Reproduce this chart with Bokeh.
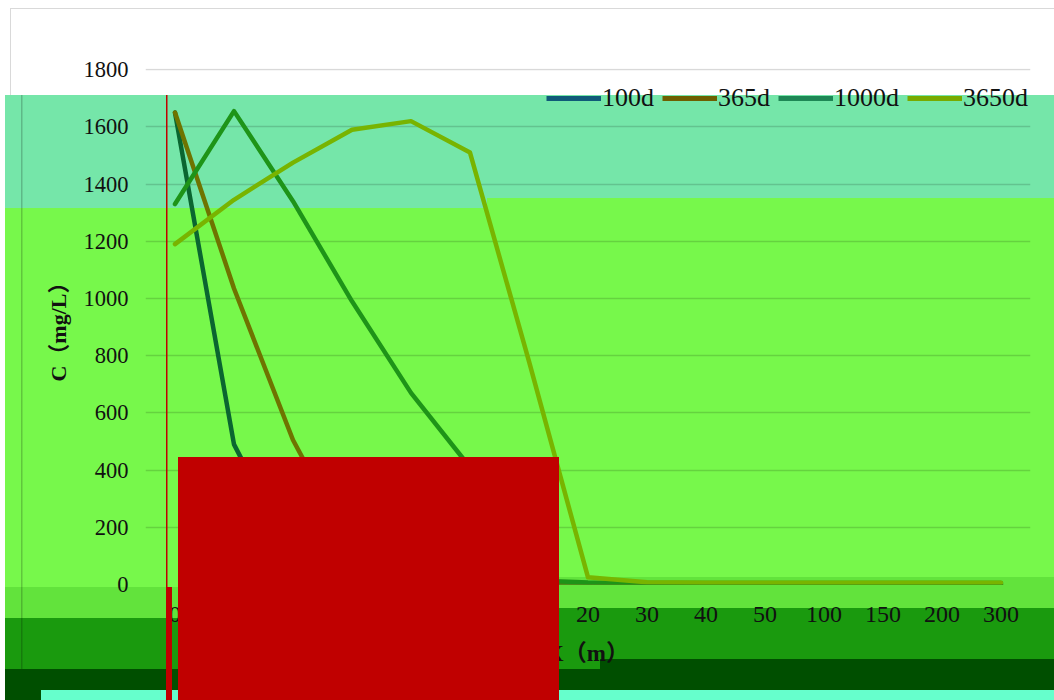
from bokeh.plotting import figure
from bokeh.models import Legend, LegendItem, FactorRange, Range1d, FixedTicker, InlineStyleSheet
from bokeh.embed import file_html
from bokeh.resources import INLINE

# ---------------- data ----------------
distance = ["0", "2", "4", "6", "8", "10", "15", "20", "30", "40", "50", "100", "150", "200", "300"]
c_100d = [1650, 490, 90, 15, 3, 1, 0, 0, 0, 0, 0, 0, 0, 0, 0]
c_365d = [1650, 1035, 505, 120, 12, 3, 1, 0, 0, 0, 0, 0, 0, 0, 0]
c_1000d = [1330, 1655, 1340, 990, 670, 410, 15, 7, 5, 5, 5, 5, 5, 5, 5]
c_3650d = [1190, 1345, 1475, 1590, 1620, 1510, 780, 25, 8, 6, 6, 6, 6, 6, 6]
series_names = ["100d", "365d", "1000d", "3650d"]
y_ticks = [0, 200, 400, 600, 800, 1000, 1200, 1400, 1600, 1800]

line_colors = ["#0a6630", "#6e7400", "#1e9418", "#78b400"]
legend_colors = ["#0f5a78", "#6e5f00", "#1e8755", "#78aa00"]

SERIF = "'Liberation Serif', 'Times New Roman', 'Noto Sans CJK SC'"

# ---------------- page decoration (glitch bands), canvas px: x0, y0, x1, y1, colour ----------------
TEAL, BRIGHT, MEDIUM, DARK, DARKEST, AQUA = "#75e6a9", "#77f84b", "#62e33c", "#1a9a0e", "#004f00", "#66ffcc"
under_layers = [
    (21, 95, 22.5, 669, "rgba(0,0,0,0.2)"),
    (10, 8, 1054, 9, "#d9d9d9"),
    (10, 8, 11, 95, "#d9d9d9"),
    (5, 95, 487, 208, TEAL),
    (487, 95, 1054, 198, TEAL),
    (5, 208, 487, 587, BRIGHT),
    (487, 198, 1054, 577, BRIGHT),
    (5, 587, 557, 618, MEDIUM),
    (557, 577, 1054, 608, MEDIUM),
    (5, 618, 557, 669, DARK),
    (557, 608, 600, 669, DARK),
    (600, 608, 1054, 659, DARK),
    (600, 659, 1054, 690, DARKEST),
    (41, 690, 1054, 700, AQUA),
    (5, 669, 600, 700, DARKEST),
]
over_layers = [
    (166, 95, 167.5, 587, "#c00000"),
    (166, 587, 172, 700, "#c00000"),
    (178, 457, 559, 700, "#c00000"),
]


def css_layers(layers):
    return ", ".join(
        f"linear-gradient({c},{c}) {x0}px {y0}px / {x1 - x0}px {y1 - y0}px no-repeat"
        for x0, y0, x1, y1, c in layers)


css = (":host { position: relative; background: " + css_layers(under_layers) + "; background-color: white; }\n"
       ":host::after { content: ''; position: absolute; left: 0; top: 0; width: 1054px; height: 700px;"
       " pointer-events: none; z-index: 100; background: " + css_layers(over_layers) + "; }")

W, H = 1054, 700
p = figure(width=W, height=H, frame_width=885, frame_height=516,
           x_range=FactorRange(*distance), y_range=Range1d(0, 1804),
           output_backend="svg", toolbar_location=None,
           min_border_left=145, min_border_right=24, min_border_top=68, min_border_bottom=116,
           background_fill_alpha=0, border_fill_alpha=0,
           stylesheets=[InlineStyleSheet(css=css)])
p.outline_line_color = None

# ---------------- lines ----------------
series = [c_100d, c_365d, c_1000d, c_3650d]
items = []
for name, vals, lc, gc in zip(series_names, series, line_colors, legend_colors):
    p.line(distance, vals, line_color=lc, line_width=4.5, line_join="round", line_cap="round")
    key = p.line(distance[:1], vals[:1], line_color=gc, line_width=5)
    items.append(LegendItem(label=name, renderers=[key]))

legend = Legend(items=items, orientation="horizontal", location=(401, 471),
                glyph_width=55, glyph_height=20, label_standoff=1, spacing=8,
                padding=0, margin=0, background_fill_alpha=0, border_line_alpha=0,
                label_text_font=SERIF, label_text_font_size="26px", label_text_color="#111111")
p.add_layout(legend)

# ---------------- axes & grid ----------------
p.yaxis.ticker = FixedTicker(ticks=y_ticks)
p.ygrid.grid_line_color = "black"
p.ygrid.grid_line_alpha = 0.15
p.ygrid.grid_line_width = 1.3
p.xgrid.grid_line_color = None

for ax in (p.xaxis[0], p.yaxis[0]):
    ax.axis_line_color = None
    ax.major_tick_line_color = None
    ax.minor_tick_line_color = None
    ax.major_label_text_font = SERIF
    ax.major_label_text_color = "#111111"
    ax.axis_label_text_font = SERIF
    ax.axis_label_text_font_style = "bold"
    ax.axis_label_text_color = "#111111"

p.yaxis.axis_label_text_font_size = "22px"
p.xaxis.axis_label_text_font_size = "23px"
p.yaxis.major_label_text_font_size = "22.5px"
p.xaxis.major_label_text_font_size = "24px"
p.yaxis.major_label_standoff = 11
p.xaxis.major_label_standoff = 16
p.yaxis.axis_label = "C（mg/L）"
p.xaxis.axis_label = "X（m）"
p.yaxis.axis_label_standoff = 10
p.xaxis.axis_label_standoff = 16

open("out.html", "w").write(file_html(p, INLINE))
